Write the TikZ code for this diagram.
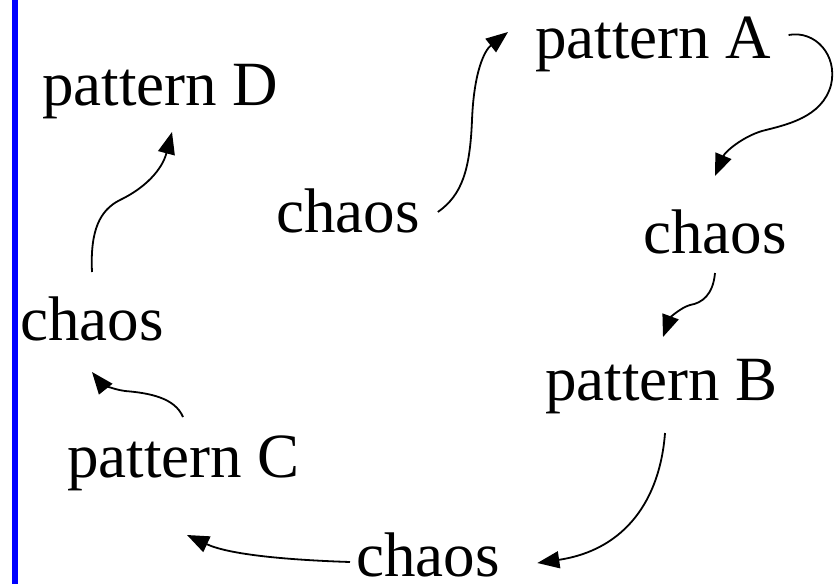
\documentclass[tikz,border=0pt]{standalone}
\usepackage{fontspec}
\setmainfont{Liberation Serif}
\usetikzlibrary{arrows.meta}
\begin{document}
\begin{tikzpicture}[x=1pt,y=-1pt,
  lbl/.style={anchor=base west,inner sep=0pt,font=\fontsize{63}{70}\selectfont},
  arr/.style={line width=1.8pt,-{Triangle[length=22pt,width=17pt]}}]
\useasboundingbox (0,0) rectangle (834,584);
\fill[blue] (12,0) rectangle (17.5,584);
\node[lbl] (pA) at (535,58) {pattern A};
\node[lbl] (pD) at (42,105) {pattern D};
\node[lbl] (cM) at (276,232) {chaos};
\node[lbl] (cR) at (643,253) {chaos};
\node[lbl] (cL) at (20,340) {chaos};
\node[lbl] (pB) at (545,400) {pattern B};
\node[lbl] (pC) at (67,477) {pattern C};
\node[lbl,text depth=0pt] (cB) at (356,576) {chaos};
% chaos -> pattern A
\draw[arr] ([shift={(18,-20)}]cM.base east) .. controls (462,195) and (470,170) .. (472,120)
  .. controls (474,70) and (485,50) .. ([shift={(-27,-26)}]pA.base west);
% pattern A -> chaos
\draw[arr] ([shift={(17,-23)}]pA.base east) .. controls (815,30) and (838,55) .. (831,85)
  .. controls (822,118) and (785,125) .. (762,131)
  .. controls (742,137) and (725,152) .. ([shift={(72,-77)}]cR.base west);
% chaos -> pattern B
\draw[arr] ([shift={(72,20)}]cR.base west) .. controls (713,295) and (702,303) .. (690,305)
  .. controls (680,308) and (670,318) .. ([shift={(118,-63)}]pB.base west);
% pattern B -> chaos
\draw[arr] ([shift={(120,33)}]pB.base west) .. controls (660,500) and (625,550) .. ([shift={(37.5,-13)}]cB.base east);
% chaos -> pattern C
\draw[arr] ([shift={(-6,-14)}]cB.base west) .. controls (290,560) and (230,555) .. ([shift={(120,58)}]pC.base west);
% pattern C -> chaos
\draw[arr] ([shift={(116,-60)}]pC.base west) .. controls (175,398) and (150,393) .. (125,391)
  .. controls (110,389) and (100,382) .. ([shift={(72,32)}]cL.base west);
% chaos -> pattern D
\draw[arr] ([shift={(72,-68)}]cL.base west) .. controls (90,230) and (100,210) .. (120,200)
  .. controls (145,188) and (162,170) .. ([shift={(130,27)}]pD.base west);
\end{tikzpicture}
\end{document}
